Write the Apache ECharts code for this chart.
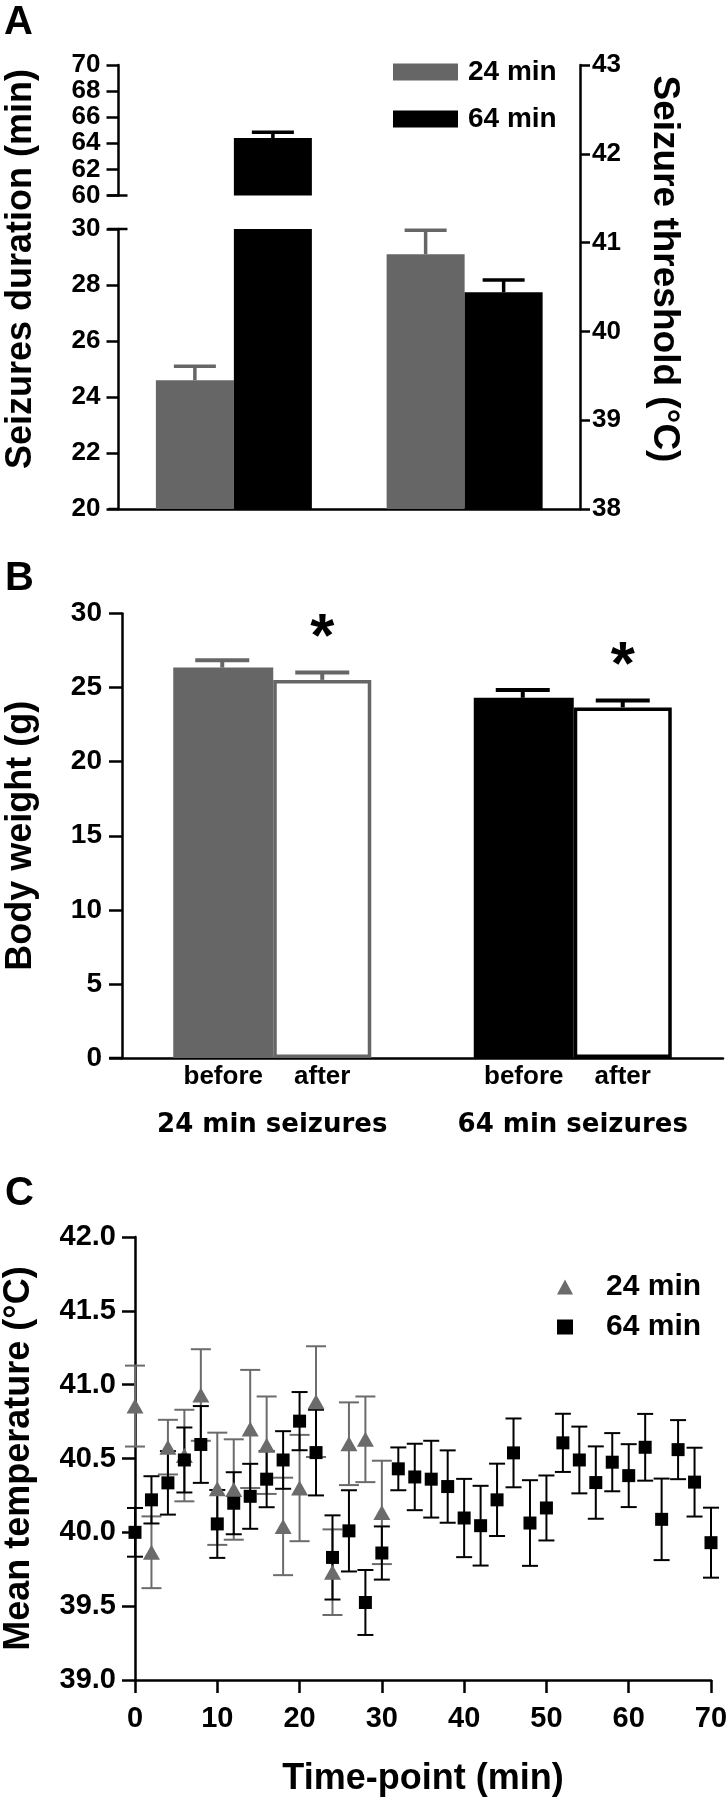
<!DOCTYPE html>
<html>
<head>
<meta charset="utf-8">
<script src="https://cdn.jsdelivr.net/npm/echarts@6/dist/echarts.min.js"></script>
<style>
html, body { margin: 0; padding: 0; background: #fff; }
.panel { position: absolute; left: 0; width: 726px; }
#chartA { top: 0; height: 540px; }
#chartB { top: 540px; height: 600px; }
#chartC { top: 1100px; height: 700px; }
</style>
</head>
<body>
<div id="chartA" class="panel"></div>
<div id="chartB" class="panel"></div>
<div id="chartC" class="panel"></div>
<script>
// ---- panel A: seizure duration (left, broken axis) and threshold (right axis)
var groupsA = ['duration', 'threshold'];
var mean24A = [24.6, 40.87];
var sem24A = [0.5, 0.27];
var mean64A = [64.4, 40.44];
var sem64A = [0.45, 0.14];
var breakA = [60, 30]; // ends of the broken left axis

// ---- panel B: body weight
var groupsB = ['24 min seizures', '64 min seizures'];
var phasesB = ['before', 'after'];
var beforeB = [26.35, 24.31];
var beforeSemB = [0.5, 0.53];
var afterB = [25.52, 23.66];
var afterSemB = [0.5, 0.46];

// ---- panel C: mean temperature over time
var time24 = [0, 2, 4, 6, 8, 10, 12, 14, 16, 18, 20, 22, 24, 26, 28, 30];
var mean24 = [40.855, 39.865, 40.577, 40.52, 40.93, 40.295, 40.29, 40.70, 40.59, 40.04, 40.30, 40.885, 39.73, 40.60, 40.63, 40.135];
var sem24 = [0.274, 0.243, 0.185, 0.31, 0.31, 0.38, 0.34, 0.40, 0.33, 0.33, 0.36, 0.375, 0.29, 0.28, 0.29, 0.35];
var time64 = [0, 2, 4, 6, 8, 10, 12, 14, 16, 18, 20, 22, 24, 26, 28, 30, 32, 34, 36, 38, 40, 42, 44, 46, 48, 50, 52, 54, 56, 58, 60, 62, 64, 66, 68, 70];
var mean64 = [40.00, 40.22, 40.335, 40.49, 40.595, 40.057, 40.197, 40.244, 40.36, 40.49, 40.753, 40.54, 39.83, 40.01, 39.525, 39.86, 40.43, 40.375, 40.36, 40.31, 40.097, 40.045, 40.22, 40.538, 40.063, 40.165, 40.606, 40.49, 40.337, 40.475, 40.384, 40.576, 40.088, 40.56, 40.34, 39.93];
var sem64 = [0.165, 0.16, 0.215, 0.22, 0.26, 0.23, 0.21, 0.22, 0.19, 0.195, 0.197, 0.29, 0.285, 0.275, 0.22, 0.18, 0.145, 0.225, 0.26, 0.245, 0.265, 0.27, 0.245, 0.233, 0.29, 0.22, 0.197, 0.226, 0.245, 0.197, 0.213, 0.226, 0.276, 0.2, 0.233, 0.237];

var FONT = '"Liberation Sans", Arial, Helvetica, sans-serif';
var GRAY = '#666666';
var BLACK = '#000000';
var BAR_A = 78;
var BAR_B = 100;

function font(size) {
    return {fontFamily: FONT, fontWeight: 'bold', fontSize: size, color: '#000'};
}

function valueAxis(extra) {
    var ax = {
        type: 'value',
        axisLine: {show: true, lineStyle: {color: '#000', width: 2.5}},
        axisTick: {show: true, inside: false, length: 12, lineStyle: {color: '#000', width: 2.5}},
        splitLine: {show: false},
        axisLabel: Object.assign({margin: 18}, font(26))
    };
    return Object.assign(ax, extra);
}

// upper whisker + cap drawn on top of a bar
function barErr(offset, capW, colors, lw, star) {
    return function (params, api) {
        var idx = api.value(0);
        var base = api.coord([idx, api.value(1)]);
        var top = api.coord([idx, api.value(1) + api.value(2)]);
        var x = base[0] + offset;
        var color = colors[idx % colors.length];
        var kids = [
            {type: 'line', shape: {x1: x, y1: base[1], x2: x, y2: top[1]}, style: {stroke: color, lineWidth: lw}},
            {type: 'line', shape: {x1: x - capW / 2, y1: top[1], x2: x + capW / 2, y2: top[1]}, style: {stroke: color, lineWidth: lw}}
        ];
        if (star) {
            kids.push({type: 'text', style: {text: '*', x: x, y: top[1] - 34, textAlign: 'center', textVerticalAlign: 'middle',
                font: 'bold 62px ' + FONT, fill: '#000'}});
        }
        return {type: 'group', children: kids};
    };
}

// symmetric error bar with two caps
function dotErr(capW, color) {
    return function (params, api) {
        var lo = api.coord([api.value(0), api.value(1) - api.value(2)]);
        var hi = api.coord([api.value(0), api.value(1) + api.value(2)]);
        var x = lo[0];
        var st = {stroke: color, lineWidth: 2};
        return {type: 'group', children: [
            {type: 'line', shape: {x1: x, y1: lo[1], x2: x, y2: hi[1]}, style: st},
            {type: 'line', shape: {x1: x - capW / 2, y1: lo[1], x2: x + capW / 2, y2: lo[1]}, style: st},
            {type: 'line', shape: {x1: x - capW / 2, y1: hi[1], x2: x + capW / 2, y2: hi[1]}, style: st}
        ]};
    };
}

// short horizontal stroke across the left axis (break ends, axis stub)
function axisMark(left, right) {
    return function (params, api) {
        var cs = params.coordSys;
        var y = api.coord([api.value(0), api.value(1)])[1];
        return {type: 'line', shape: {x1: cs.x - left, y1: y, x2: cs.x + right, y2: y},
            style: {stroke: '#000', lineWidth: 2.5}};
    };
}

function drawA() {
    var myChart = echarts.init(document.getElementById('chartA'));
    function bar(name, color, g, data) {
        return {type: 'bar', name: name, xAxisIndex: g, yAxisIndex: g, data: data, barWidth: BAR_A, barGap: '0%',
            clip: true, itemStyle: {color: color}};
    }
    function err(g, data, offset, color) {
        return {type: 'custom', xAxisIndex: g, yAxisIndex: g, data: data, renderItem: barErr(offset, 42, [color], 3.5), z: 3};
    }
    function mark(g, value, left, right) {
        return {type: 'custom', xAxisIndex: g, yAxisIndex: g, data: [[0, value]], renderItem: axisMark(left, right), z: 4};
    }
    var option = {
        animation: false,
        grid: [
            {left: 118.5, right: 146, top: 65, height: 130.5, outerBoundsMode: 'none'},
            {left: 118.5, right: 146, top: 229, height: 280, outerBoundsMode: 'none'},
            {left: 118.5, right: 146, top: 65, height: 444, outerBoundsMode: 'none'}
        ],
        legend: {
            data: ['24 min', '64 min'], orient: 'vertical', left: 388, top: 53, icon: 'rect',
            itemWidth: 65, itemHeight: 17, itemGap: 19, selectedMode: false,
            textStyle: Object.assign({padding: [0, 0, 0, 5]}, font(28))
        },
        xAxis: [0, 1, 2].map(function (i) {
            return {type: 'category', gridIndex: i, data: groupsA,
                axisLine: {show: i === 2, lineStyle: {color: '#000', width: 2.5}},
                axisTick: {show: false}, axisLabel: {show: false}};
        }),
        yAxis: [
            valueAxis({gridIndex: 0, min: 60, max: 70, interval: 2}),
            valueAxis({gridIndex: 1, min: 20, max: 30, interval: 2}),
            valueAxis({gridIndex: 2, position: 'right', min: 38, max: 43, interval: 1,
                axisTick: {show: true, length: 10, lineStyle: {color: '#000', width: 2.5}},
                axisLabel: Object.assign({margin: 12}, font(26))})
        ],
        graphic: [
            {type: 'text', left: 4, top: 3, style: {text: 'A', font: 'bold 40px ' + FONT, fill: '#000'}},
            {type: 'text', x: 21, y: 269, rotation: Math.PI / 2,
                style: {text: 'Seizures duration (min)', textAlign: 'center', textVerticalAlign: 'middle',
                    font: 'bold 36px ' + FONT, fill: '#000'}},
            {type: 'text', x: 664, y: 269, rotation: -Math.PI / 2,
                style: {text: 'Seizure threshold (°C)', textAlign: 'center', textVerticalAlign: 'middle',
                    font: 'bold 37px ' + FONT, fill: '#000'}}
        ],
        series: [
            bar('24 min', GRAY, 0, ['-', '-']),
            bar('64 min', BLACK, 0, [mean64A[0], '-']),
            bar('24 min', GRAY, 1, [mean24A[0], '-']),
            bar('64 min', BLACK, 1, [mean64A[0], '-']),
            bar('24 min', GRAY, 2, ['-', mean24A[1]]),
            bar('64 min', BLACK, 2, ['-', mean64A[1]]),
            err(0, [[0, mean64A[0], sem64A[0]]], BAR_A / 2, BLACK),
            err(1, [[0, mean24A[0], sem24A[0]]], -BAR_A / 2, GRAY),
            err(2, [[1, mean24A[1], sem24A[1]]], -BAR_A / 2, GRAY),
            err(2, [[1, mean64A[1], sem64A[1]]], BAR_A / 2, BLACK),
            mark(0, breakA[0], 11, 9),
            mark(1, breakA[1], 11, 9),
            mark(2, 38, 10, 0)
        ]
    };
    myChart.setOption(option);
}

function drawB() {
    var myChart = echarts.init(document.getElementById('chartB'));
    var colors = [GRAY, BLACK];
    function phaseLabel(text) {
        return Object.assign({show: true, position: 'bottom', distance: 6, formatter: text}, font(26));
    }
    var option = {
        animation: false,
        grid: {left: 122, right: 3, top: 73.5, height: 444.5, outerBoundsMode: 'none'},
        xAxis: {
            type: 'category', data: groupsB,
            axisLine: {lineStyle: {color: '#000', width: 2.5}},
            axisTick: {show: false},
            axisLabel: Object.assign({margin: 54, interval: 0}, font(26), {fontFamily: '"DejaVu Sans", ' + FONT})
        },
        yAxis: valueAxis({min: 0, max: 30, interval: 5,
            axisTick: {show: true, length: 13, lineStyle: {color: '#000', width: 2.5}},
            axisLabel: Object.assign({margin: 20}, font(28)),
            name: 'Body weight (g)', nameLocation: 'middle', nameGap: 83, nameTextStyle: font(36)}),
        graphic: [
            {type: 'text', left: 5, top: 19, style: {text: 'B', font: 'bold 40px ' + FONT, fill: '#000'}}
        ],
        series: [
            {type: 'bar', name: phasesB[0], barWidth: BAR_B, barGap: '0%',
                data: beforeB.map(function (v, i) { return {value: v, itemStyle: {color: colors[i]}}; }),
                label: phaseLabel(phasesB[0])},
            {type: 'bar', name: phasesB[1], barWidth: BAR_B - 2, barGap: '0%',
                data: afterB.map(function (v, i) {
                    return {value: v, itemStyle: {color: '#fff', borderColor: colors[i], borderWidth: 3.5}};
                }),
                label: phaseLabel(phasesB[1])},
            {type: 'custom', z: 3, data: beforeB.map(function (v, i) { return [i, v, beforeSemB[i]]; }),
                renderItem: barErr(-BAR_B / 2, 54, colors, 4, false)},
            {type: 'custom', z: 3, data: afterB.map(function (v, i) { return [i, v, afterSemB[i]]; }),
                renderItem: barErr(BAR_B / 2, 54, colors, 4, true)},
            {type: 'custom', z: 4, data: [[0, 0]], renderItem: axisMark(13, 0)}
        ]
    };
    myChart.setOption(option);
}

function drawC() {
    var myChart = echarts.init(document.getElementById('chartC'));
    var GRAY_C = '#6b6b6b';
    var option = {
        animation: false,
        grid: {left: 135, right: 15, top: 137, height: 443, outerBoundsMode: 'none'},
        legend: {
            data: [{name: '24 min', icon: 'triangle'}, {name: '64 min', icon: 'rect'}],
            orient: 'vertical', left: 552, top: 167, itemWidth: 16, itemHeight: 15, itemGap: 10,
            selectedMode: false,
            textStyle: Object.assign({padding: [0, 0, 0, 28]}, font(30))
        },
        xAxis: valueAxis({min: 0, max: 70, interval: 10,
            axisTick: {show: true, length: 13, lineStyle: {color: '#000', width: 2.5}},
            axisLabel: Object.assign({margin: 24}, font(29)),
            name: 'Time-point (min)', nameLocation: 'middle', nameGap: 81, nameTextStyle: font(36)}),
        yAxis: valueAxis({min: 39, max: 42, interval: 0.5,
            axisTick: {show: true, length: 13, lineStyle: {color: '#000', width: 2.5}},
            axisLabel: Object.assign({margin: 19, formatter: function (v) { return v.toFixed(1); }}, font(29)),
            name: 'Mean temperature (°C)', nameLocation: 'middle', nameGap: 98, nameTextStyle: font(36)}),
        graphic: [
            {type: 'text', left: 5, top: 74, style: {text: 'C', font: 'bold 40px ' + FONT, fill: '#000'}}
        ],
        series: [
            {type: 'custom', name: '24 min err', data: time24.map(function (t, i) { return [t, mean24[i], sem24[i]]; }),
                renderItem: dotErr(20, GRAY_C)},
            {type: 'scatter', name: '24 min', symbol: 'triangle', symbolSize: [17, 15], itemStyle: {color: GRAY_C, opacity: 1},
                data: time24.map(function (t, i) { return [t, mean24[i]]; })},
            {type: 'custom', name: '64 min err', data: time64.map(function (t, i) { return [t, mean64[i], sem64[i]]; }),
                renderItem: dotErr(16, BLACK)},
            {type: 'scatter', name: '64 min', symbol: 'rect', symbolSize: 13, itemStyle: {color: BLACK, opacity: 1},
                data: time64.map(function (t, i) { return [t, mean64[i]]; })}
        ]
    };
    myChart.setOption(option);
}

drawA();
drawB();
drawC();
</script>
</body>
</html>
